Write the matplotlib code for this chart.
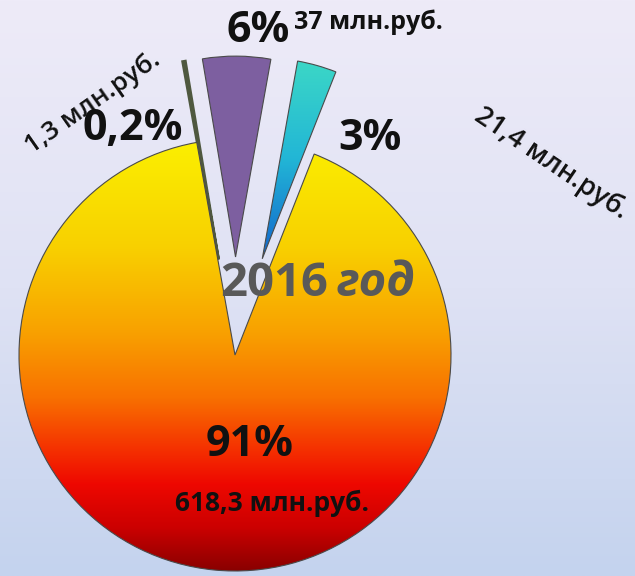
import numpy as np
import matplotlib.pyplot as plt
from matplotlib.colors import LinearSegmentedColormap

plt.rcParams['font.family'] = ['Open Sans', 'DejaVu Sans']

# slice data, clockwise from the right edge of the gap
values = [618.3, 1.3, 37, 21.4]
pct_labels = ["91%", "0,2%", "6%", "3%"]
sum_labels = ["618,3 млн.руб.", "1,3 млн.руб.", "37 млн.руб.", "21,4 млн.руб."]
year = "2016"
year_word = "год"

W, H = 635, 576
fig = plt.figure(figsize=(W / 100, H / 100), dpi=100)
ax = fig.add_axes([0, 0, 1, 1])
ax.axis('off')

# light blue background
bg_cmap = LinearSegmentedColormap.from_list('bg', ['#eeebf8', '#dfe2f4', '#c4d3ee'])
ax.imshow(np.linspace(0, 1, 256).reshape(-1, 1), cmap=bg_cmap, aspect='auto',
          extent=[0, W, 0, H], zorder=0)

R = 216
cx, cy = 235, H - 355
wedges, _ = ax.pie(values, startangle=68.5, counterclock=False,
                   explode=[0, 97, 98, 100], radius=R, center=(cx, cy),
                   colors=['#f08000', '#8a9478', '#7d5fa0', '#20b0d0'],
                   wedgeprops=dict(edgecolor='#4a4a4a', linewidth=0.8))
for w in wedges[1:]:
    w.set_radius(R * 0.93)
# the tiny slice is only a sliver, give it a thicker outline
wedges[1].set_edgecolor('#4f583f')
wedges[1].set_linewidth(2.2)

# gradient fills clipped to the wedges
main_cmap = LinearSegmentedColormap.from_list(
    'main', [(0, '#fbf000'), (0.25, '#f8d000'), (0.45, '#f9a000'), (0.6, '#f87000'),
             (0.72, '#f53000'), (0.8, '#ee0800'), (0.9, '#cc0000'), (1, '#8a0000')])
im = ax.imshow(np.linspace(0, 1, 256).reshape(-1, 1), cmap=main_cmap, aspect='auto',
               extent=[cx - R, cx + R, cy - R, cy + R], zorder=1)
im.set_clip_path(wedges[0])

teal = wedges[3]
tc = teal.center
tr = teal.r
teal_cmap = LinearSegmentedColormap.from_list('teal', ['#3cd8c6', '#22b6d6', '#1264cc'])
im2 = ax.imshow(np.linspace(0, 1, 256).reshape(-1, 1), cmap=teal_cmap, aspect='auto',
                extent=[tc[0] - tr * 0.3, tc[0] + tr * 0.5, tc[1], tc[1] + tr], zorder=1)
im2.set_clip_path(teal)

for w in (wedges[0], teal):
    w.set_facecolor('none')
    w.set_zorder(2)

ax.set_xlim(0, W)
ax.set_ylim(0, H)
ax.set_aspect('equal')


def put(x, y, s, **kw):
    ax.text(x, H - y, s, ha='center', va='center', zorder=5, **kw)


big = dict(fontsize=31, fontweight='bold', color='#111111')
put(250, 445, pct_labels[0], **big)
put(272, 503, sum_labels[0], fontsize=19, fontweight='bold', color='#111111')
put(133, 128, pct_labels[1], **big)
put(93, 103, sum_labels[1], fontsize=19, fontweight=600, rotation=35, color='#111111')
put(258, 31, pct_labels[2], **big)
ax.text(294, H - 22, sum_labels[2], ha='left', va='center', fontsize=18,
        fontweight='bold', color='#111111', zorder=5)
put(370, 138, pct_labels[3], **big)
put(551, 163, sum_labels[3], fontsize=19.5, fontweight=600, rotation=-34, color='#111111')

ax.text(328, H - 284, year, ha='right', va='center', fontsize=34,
        fontweight='bold', color='#595959', zorder=5)
ax.text(337, H - 284, year_word, ha='left', va='center', fontsize=34,
        fontweight='bold', style='italic', color='#595959', zorder=5)

fig.savefig('out.png', dpi=100)
